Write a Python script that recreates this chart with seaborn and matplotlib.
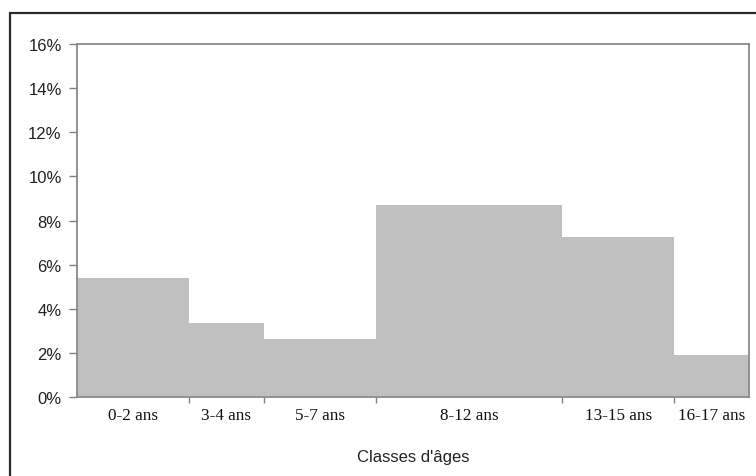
import numpy as np
import matplotlib
matplotlib.use("Agg")
import matplotlib.pyplot as plt
import seaborn as sns
from matplotlib.lines import Line2D

# age classes (years), bin edges and share of each class (%)
classes = ["0-2 ans", "3-4 ans", "5-7 ans", "8-12 ans", "13-15 ans", "16-17 ans"]
edges = [0, 3, 5, 8, 13, 16, 18]
values = [5.4, 3.35, 2.65, 8.7, 7.25, 1.9]
yticks = [0, 2, 4, 6, 8, 10, 12, 14, 16]

mids = [(a + b) / 2 for a, b in zip(edges[:-1], edges[1:])]

sns.set_style("white")
plt.rcParams["font.family"] = ["Liberation Sans", "DejaVu Sans"]

fig = plt.figure(figsize=(7.56, 4.77), dpi=100)
ax = fig.add_axes([77 / 756, 1 - 398 / 477, (749 - 77) / 756, (398 - 45) / 477])

sns.histplot(x=mids, weights=values, bins=edges, stat="count",
             color="#c0c0c0", alpha=1, linewidth=0, ax=ax)

ax.set_xlim(edges[0], edges[-1])
ax.set_ylim(0, 16)
ax.set_yticks(yticks)
ax.set_yticklabels([f"{v}%" for v in yticks], fontsize=12, color="#222222")
ax.set_ylabel("")

# ticks at class boundaries, labels centred under each bar
ax.set_xticks(edges[1:-1])
ax.set_xticklabels([])
ax.set_xticks(mids, minor=True)
ax.set_xticklabels(classes, minor=True, fontsize=12.3,
                   family=["Liberation Serif", "DejaVu Serif"], color="#111111")
ax.tick_params(axis="x", which="major", length=4, width=1, color="#808080", direction="out")
ax.tick_params(axis="x", which="minor", length=0, pad=7)
ax.tick_params(axis="y", length=6, width=1, color="#808080", direction="out", pad=5)
ax.tick_params(left=True, bottom=True)

ax.set_xlabel("Classes d'âges", fontsize=12, color="#222222", labelpad=19)

for s in ax.spines.values():
    s.set_visible(True)
    s.set_color("#8a8a8a")
    s.set_linewidth(1.3)

# outer frame (top and left edges of the picture box)
fig.add_artist(Line2D([10 / 756, 10 / 756], [1 - 14 / 477, 0], transform=fig.transFigure,
                      color="#2a2a2a", linewidth=1.6))
fig.add_artist(Line2D([10 / 756, 1], [1 - 14 / 477, 1 - 14 / 477], transform=fig.transFigure,
                      color="#2a2a2a", linewidth=1.6))

fig.savefig("out.png", dpi=100, facecolor="white")
